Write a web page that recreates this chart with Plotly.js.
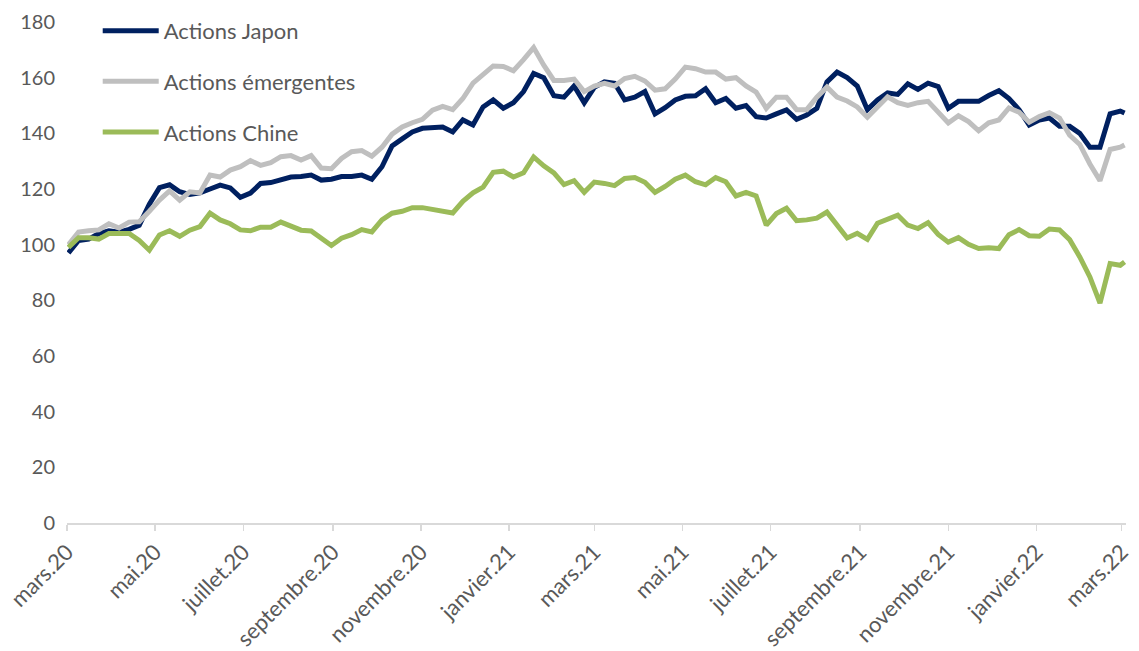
<!DOCTYPE html>
<html>
<head>
<meta charset="utf-8">
<script src="https://cdn.plot.ly/plotly-3.0.1.min.js"></script>
<style>html,body{margin:0;padding:0;background:#fff;}#chart{width:1139px;height:651px;}</style>
</head>
<body>
<div id="chart"></div>
<script>
var dates = [
"2020-03-02","2020-03-09","2020-03-16","2020-03-23","2020-03-30","2020-04-06","2020-04-13","2020-04-20","2020-04-27",
"2020-05-04","2020-05-11","2020-05-18","2020-05-25","2020-06-01","2020-06-08","2020-06-15","2020-06-22","2020-06-29",
"2020-07-06","2020-07-13","2020-07-20","2020-07-27","2020-08-03","2020-08-10","2020-08-17","2020-08-24","2020-08-31",
"2020-09-07","2020-09-14","2020-09-21","2020-09-28","2020-10-05","2020-10-12","2020-10-19","2020-10-26",
"2020-11-02","2020-11-09","2020-11-16","2020-11-23","2020-11-30","2020-12-07","2020-12-14","2020-12-21","2020-12-28",
"2021-01-04","2021-01-11","2021-01-18","2021-01-25","2021-02-01","2021-02-08","2021-02-15","2021-02-22",
"2021-03-01","2021-03-08","2021-03-15","2021-03-22","2021-03-29","2021-04-05","2021-04-12","2021-04-19","2021-04-26",
"2021-05-03","2021-05-10","2021-05-17","2021-05-24","2021-05-31","2021-06-07","2021-06-14","2021-06-21","2021-06-28",
"2021-07-05","2021-07-12","2021-07-19","2021-07-26","2021-08-02","2021-08-09","2021-08-16","2021-08-23","2021-08-30",
"2021-09-06","2021-09-13","2021-09-20","2021-09-27","2021-10-04","2021-10-11","2021-10-18","2021-10-25",
"2021-11-01","2021-11-08","2021-11-15","2021-11-22","2021-11-29","2021-12-06","2021-12-13","2021-12-20","2021-12-27",
"2022-01-03","2022-01-10","2022-01-17","2022-01-24","2022-01-31","2022-02-07","2022-02-14","2022-02-21","2022-02-28",
"2022-03-03"
];

var japon = [
97,101.5,102,104,105,104.5,105.5,107,114.5,
120.5,121.5,119,118,118.6,120,121.4,120.4,117,
118.5,122,122.3,123.2,124.3,124.5,125,123.2,123.5,
124.5,124.5,125,123.5,128,135.5,138,140.5,
141.8,142,142.3,140.5,144.8,143,149.5,152,149,
151,155,161.5,160,153.5,153,157,151,
156.5,158.5,158,152,153,155,147,149.2,152,
153.3,153.5,156,151,152.5,149,150,146,145.5,
147,148.4,145,146.6,149,158.5,162,160,157,
148.5,152,154.5,154,157.8,155.8,158,156.8,
149,151.5,151.5,151.5,153.6,155.3,152.5,148.5,143,
144.8,145.5,142.5,142.5,140,135,135,147,148,
147.3
];

var emergentes = [
100,104.5,105,105.3,107.5,106,108.1,108.2,112,
116,119.3,116,119,118.6,125,124.3,126.8,128,
130.2,128.5,129.5,131.6,132,130.4,132,127.5,127.3,
131,133.4,133.8,131.8,135,139.7,142.3,143.8,
145,148.3,149.7,148.5,152.5,158,161.3,164.2,164,
162.5,166.5,170.8,164.5,159,159,159.5,155,
157,158,157,159.7,160.5,158.8,155.5,156,159.5,
163.8,163.2,162,162,159.5,160,157,154.8,149,
153,153,148.5,148.5,153,156.6,153,151.6,149.5,
145.8,149.7,153.1,151,150,151,151.5,147.6,
143.7,146.3,144.2,140.9,143.8,144.8,149.1,147.6,144,
146,147.4,145.5,139.3,136,129,123,134.2,135,
135.8
];

var chine = [
99,102.5,102.5,102,104,104,104,101.5,98,
103.5,105,103,105.2,106.5,111.3,108.9,107.5,105.3,
105,106.3,106.3,108.1,106.8,105.2,104.9,102.2,99.7,
102.3,103.6,105.4,104.6,108.9,111.3,112,113.3,
113.3,112.7,112.3,111.4,115.6,118.6,120.7,126,126.4,
124.3,125.8,131.5,128.3,125.8,121.6,123,118.8,
122.5,122,121.2,123.8,124.1,122.4,118.8,120.9,123.5,
125,122.6,121.5,124.1,122.6,117.5,118.8,117.5,107,
111.2,113.1,108.6,108.9,109.5,111.7,107,102.4,104.1,
101.9,107.7,109.2,110.6,107,105.8,107.9,103.7,
100.9,102.5,100.1,98.6,98.9,98.6,103.6,105.4,103.2,
103,105.6,105.3,101.8,95.6,88.4,79,93.2,92.6,
93.8
];

var tickDates = ["2020-03-01","2020-05-01","2020-07-01","2020-09-01","2020-11-01","2021-01-01","2021-03-01",
"2021-05-01","2021-07-01","2021-09-01","2021-11-01","2022-01-01","2022-03-01"];
var tickLabels = ["mars.20","mai.20","juillet.20","septembre.20","novembre.20","janvier.21","mars.21",
"mai.21","juillet.21","septembre.21","novembre.21","janvier.22","mars.22"];
var yTicks = [0,20,40,60,80,100,120,140,160,180];

var seriesNames = ["Actions Japon","Actions émergentes","Actions Chine"];
var colors = ["#002060","#BFBFBF","#9BBB59"];
var values = [japon, emergentes, chine];

var data = values.map(function(v,i){
  return {x: dates, y: v, type:"scatter", mode:"lines", name: seriesNames[i],
    legendgroup: "g"+i,
    line:{color: colors[i], width:5, shape:"linear"}};
});

var layout = {
  width:1139, height:651,
  margin:{l:67, r:13, t:0, b:128},
  paper_bgcolor:"#fff", plot_bgcolor:"#fff",
  font:{family:"Lato, 'Liberation Sans', sans-serif", color:"#595959", size:20},
  showlegend:true,
  legend:{x:0.029, y:0.981, xanchor:"left", yanchor:"top", bgcolor:"rgba(0,0,0,0)",
    font:{size:22, color:"#595959"}, tracegroupgap:19, itemwidth:56, traceorder:"grouped"},
  xaxis:{type:"date", range:["2020-03-01","2022-03-04"], tickvals:tickDates, ticktext:tickLabels,
    tickangle:-45, showgrid:false, zeroline:false, showline:true, linecolor:"#D9D9D9", linewidth:1.5,
    ticks:"outside", ticklen:6, tickcolor:"#D9D9D9", tickwidth:1.5, tickfont:{size:22, color:"#595959"}},
  yaxis:{range:[0,187.9], tickvals:yTicks, showgrid:false, zeroline:false, showline:false,
    ticks:"", ticklabelstandoff:11, tickfont:{size:20, color:"#595959"}}
};

Plotly.newPlot("chart", data, layout, {displayModeBar:false, staticPlot:true});
</script>
</body>
</html>
